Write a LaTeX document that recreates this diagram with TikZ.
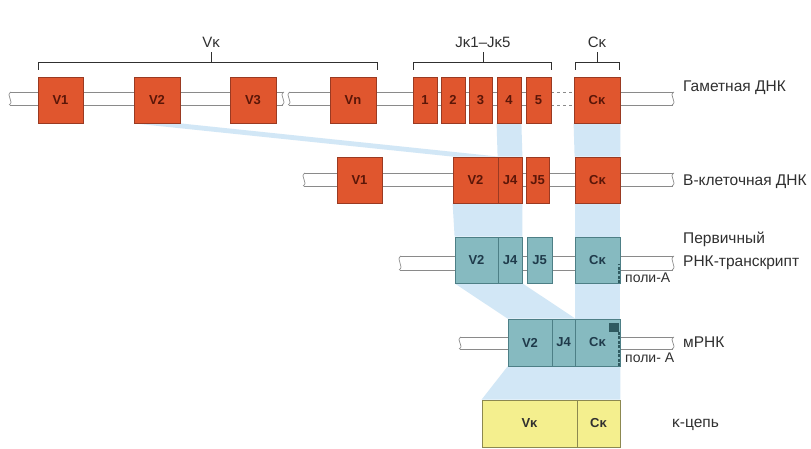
\documentclass[tikz,border=0pt]{standalone}
\usepackage{fontspec}
\setmainfont{Liberation Sans}
\usetikzlibrary{calc}
\pgfdeclarelayer{bg}
\pgfsetlayers{bg,main}
\definecolor{dnaor}{HTML}{E0562E}
\definecolor{dnaorb}{HTML}{9A3A22}
\definecolor{rnat}{HTML}{86BAC0}
\definecolor{rnatb}{HTML}{4D7F86}
\definecolor{ylw}{HTML}{F4EF8E}
\definecolor{ylwb}{HTML}{8C8850}
\definecolor{bandc}{HTML}{D2E7F6}
\definecolor{strandc}{HTML}{8A8A8A}
\definecolor{labc}{HTML}{303030}
\definecolor{boxtxt}{HTML}{5A1608}
\definecolor{tealtxt}{HTML}{1F3A4A}
\definecolor{polyc}{HTML}{2F5A60}
\newcommand{\sseg}[4]{\fill[white] (#1,#3) rectangle (#2,#4); \draw[strand] (#1,#3) -- (#2,#3) (#1,#4) -- (#2,#4);}
\newcommand{\sdsh}[4]{\fill[white] (#1,#3) rectangle (#2,#4); \draw[strand,dashed] (#1,#3) -- (#2,#3) (#1,#4) -- (#2,#4);}
\newcommand{\wig}[3]{\draw[strand] (#1+1,#2) .. controls (#1-5,#2+3) and (#1+5,#3-3) .. (#1-1,#3);}
\begin{document}
\begin{tikzpicture}[x=1pt,y=-1pt,
 obox/.style={draw=dnaorb, fill=dnaor, line width=0.8pt, inner sep=0pt, minimum height=46pt, text=boxtxt, font=\fontsize{13}{15}\selectfont\bfseries},
 tbox/.style={draw=rnatb, fill=rnat, line width=0.8pt, inner sep=0pt, minimum height=46pt, text=tealtxt, font=\fontsize{13}{15}\selectfont\bfseries},
 ybox/.style={draw=ylwb, fill=ylw, line width=0.8pt, inner sep=0pt, minimum height=47pt, text=labc, font=\fontsize{13}{15}\selectfont\bfseries},
 lab/.style={anchor=west, text=labc, font=\fontsize{15.5}{18}\selectfont, inner sep=0pt},
 toplab/.style={anchor=center, text=labc, font=\fontsize{15}{17}\selectfont, inner sep=0pt},
 strand/.style={draw=strandc, line width=0.7pt},
 band/.style={fill=bandc},
 brk/.style={draw=labc, line width=0.8pt}
]
\useasboundingbox (0,0) rectangle (811,449);
\begin{pgfonlayer}{bg}
\fill[white] (0,0) rectangle (811,449);
\end{pgfonlayer}

% ---------- strands ----------
% row 1
\sseg{10}{283}{92}{105} \wig{10}{92}{105} \wig{283}{92}{105}
\sseg{289}{552}{92}{105} \wig{289}{92}{105}
\sdsh{551}{575}{92}{105}
\sseg{619}{673}{92}{105} \wig{673}{92}{105}
% row 2
\sseg{304}{673}{173}{186} \wig{304}{173}{186} \wig{673}{173}{186}
% row 3
\sseg{400}{673}{256}{270} \wig{400}{256}{270} \wig{673}{256}{270}
% row 4
\sseg{460}{673}{337}{349} \wig{460}{337}{349} \wig{673}{337}{349}

% ---------- row 1: gametic DNA ----------
\node[obox, minimum width=45pt] (gV1) at (60.5,100) {V1};
\node[obox, minimum width=46pt] (gV2) at (157,100) {V2};
\node[obox, minimum width=46pt] (gV3) at (253,100) {V3};
\node[obox, minimum width=46pt] (gVn) at (353,100) {Vn};
\node[obox, minimum width=24pt] (gJ1) at (425,100) {1};
\node[obox, minimum width=24pt] (gJ2) at (453,100) {2};
\node[obox, minimum width=23pt] (gJ3) at (480.5,100) {3};
\node[obox, minimum width=24pt] (gJ4) at (509,100) {4};
\node[obox, minimum width=25pt] (gJ5) at (538.5,100) {5};
\node[obox, minimum width=46pt] (gC) at (597,100) {Cκ};
\node[lab] (lg) at (683,88) {Гаметная ДНК};

% brackets
\node[toplab] (tV) at (211,42) {Vκ};
\node[toplab] (tJ) at (483,42) {Jκ1–Jκ5};
\node[toplab] (tC) at (597,42) {Cκ};
\draw[brk] (38,70) |- (377,62) -- (377,70);
\draw[brk] (211,62) -- (211,52);
\draw[brk] (413,70) |- (551,62) -- (551,70);
\draw[brk] (483,62) -- (483,52);
\draw[brk] (575,70) |- (619,62) -- (619,70);
\draw[brk] (597,62) -- (597,52);

% ---------- row 2: B-cell DNA ----------
\node[obox, minimum width=45pt] (bV1) at (359.5,180) {V1};
\node[obox, minimum width=45pt] (bV2) at (475.5,180) {V2};
\node[obox, minimum width=24pt] (bJ4) at (510,180) {J4};
\node[obox, minimum width=23pt] (bJ5) at (537.5,180) {J5};
\node[obox, minimum width=45pt] (bC) at (597.5,180) {Cκ};
\node[lab] (lb) at (683,182) {В-клеточная ДНК};

% ---------- row 3: primary transcript ----------
\node[tbox, minimum width=43pt] (pV2) at (476.5,260) {V2};
\node[tbox, minimum width=24pt] (pJ4) at (510,260) {J4};
\node[tbox, minimum width=25pt] (pJ5) at (539.5,260) {J5};
\node[tbox, minimum width=45pt] (pC) at (597.5,260) {Cκ};
\draw[polyc, line width=1.2pt, dash pattern=on 3pt off 1.5pt] ($(pC.south east)+(-1.5,0)$) -- ++(0,-19);
\node[lab] (lp1) at (683,239) {Первичный};
\node[lab] (lp2) at (683,263) {РНК-транскрипт};
\node[lab, font=\fontsize{14}{16}\selectfont] (lp3) at (625,278) {поли-А};

% ---------- row 4: mRNA ----------
\node[tbox, minimum width=44pt, minimum height=47pt] (mV2) at (530,342.5) {V2};
\node[tbox, minimum width=23pt, minimum height=47pt] (mJ4) at (563.5,342.5) {J4};
\node[tbox, minimum width=45pt, minimum height=47pt] (mC) at (597.5,342.5) {Cκ};
\fill[polyc] ($(mC.north east)+(-11,4)$) rectangle ($(mC.north east)+(-1,13)$);
\draw[polyc, line width=1.2pt, dash pattern=on 3pt off 1.5pt] ($(mC.north east)+(-1.5,13)$) -- ($(mC.south east)+(-1.5,0)$);
\node[lab] (lm1) at (683,342) {мРНК};
\node[lab, font=\fontsize{14}{16}\selectfont] (lm2) at (625,358) {поли- А};

% ---------- row 5: kappa chain ----------
\node[ybox, minimum width=95pt] (yV) at (529.5,423.5) {Vκ};
\node[ybox, minimum width=43pt] (yC) at (598.5,423.5) {Cκ};
\node[lab] (ly) at (672,425) {κ-цепь};

% ---------- bands ----------
\begin{pgfonlayer}{bg}
\fill[band] (gV2.south west) -- (gV2.south east) -- (bV2.north east) -- (bV2.north west) -- cycle;
\fill[band] (gJ4.south west) -- (gJ4.south east) -- (bJ4.north east) -- (bJ4.north west) -- cycle;
\fill[band] (gC.south west) -- (gC.south east) -- (bC.north east) -- (bC.north west) -- cycle;
\fill[band] (bV2.south west) -- (bJ4.south east) -- (pJ4.north east) -- (pV2.north west) -- cycle;
\fill[band] (bC.south west) -- (bC.south east) -- (pC.north east) -- (pC.north west) -- cycle;
\fill[band] (pV2.south west) -- (pJ4.south east) -- (mJ4.north east) -- (mV2.north west) -- cycle;
\fill[band] (pC.south west) -- (pC.south east) -- (mC.north east) -- (mC.north west) -- cycle;
\fill[band] (mV2.south west) -- (mC.south east) -- (yC.north east) -- (yV.north west) -- cycle;
\end{pgfonlayer}
\end{tikzpicture}
\end{document}
